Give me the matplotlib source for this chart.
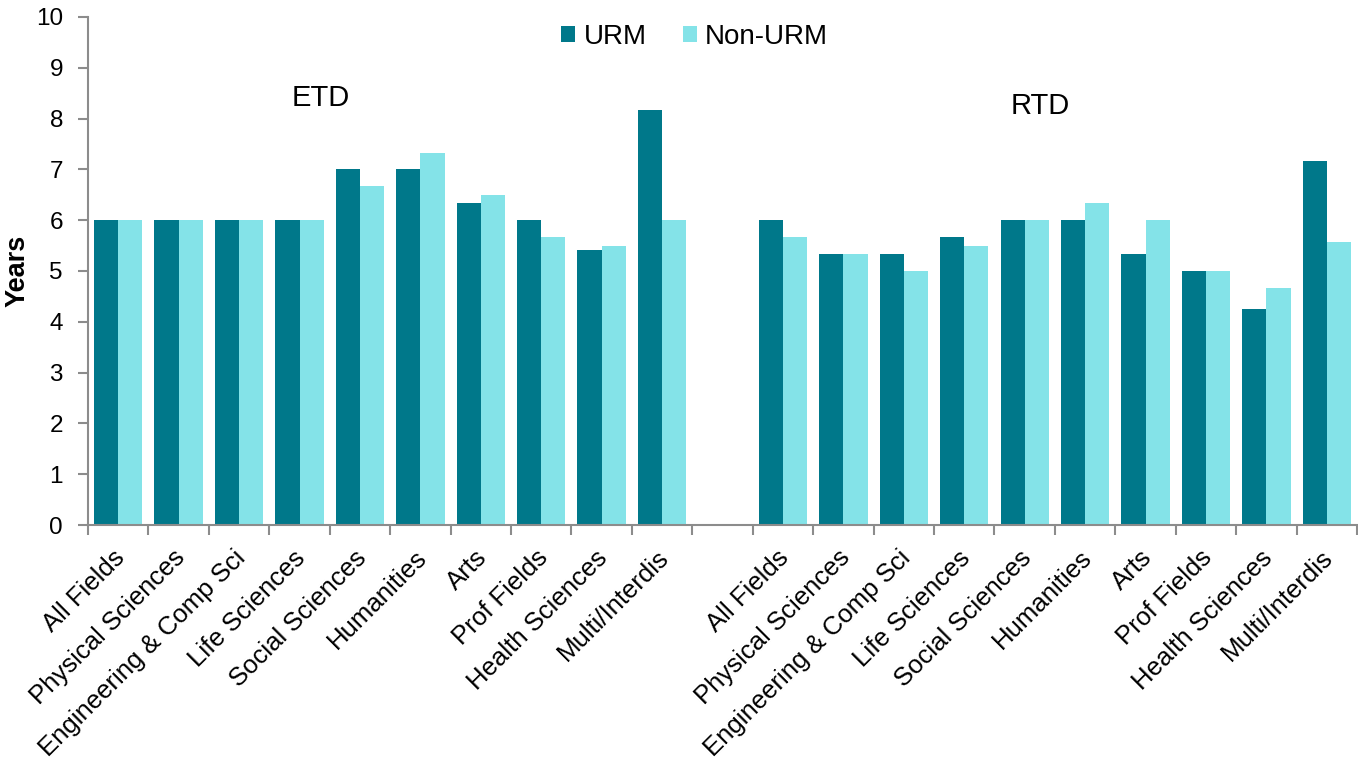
import matplotlib
matplotlib.use("Agg")
import matplotlib.pyplot as plt
import matplotlib.transforms as mtransforms
import numpy as np

plt.rcParams["font.family"] = ["Liberation Sans", "DejaVu Sans"]

FIELDS = ["All Fields", "Physical Sciences", "Engineering & Comp Sci",
          "Life Sciences", "Social Sciences", "Humanities", "Arts",
          "Prof Fields", "Health Sciences", "Multi/Interdis"]

ETD_URM = [6, 6, 6, 6, 7, 7, 6.33, 6, 5.42, 8.17]
ETD_NON = [6, 6, 6, 6, 6.67, 7.33, 6.5, 5.67, 5.5, 6]
RTD_URM = [6, 5.33, 5.33, 5.67, 6, 6, 5.33, 5, 4.25, 7.17]
RTD_NON = [5.67, 5.33, 5, 5.5, 6, 6.33, 6, 5, 4.67, 5.58]

URM_COLOR = "#00788a"
NON_COLOR = "#84e3e8"
SPINE = "#8c8c8c"

n = len(FIELDS)
x_etd = np.arange(n)
x_rtd = np.arange(n) + n + 1
x_all = np.concatenate([x_etd, x_rtd])
urm = ETD_URM + RTD_URM
non = ETD_NON + RTD_NON
w = 0.4

fig = plt.figure(figsize=(13.58, 7.64), dpi=100)
ax = fig.add_axes([0.0648, 0.3128, 0.9345, 0.665])

ax.bar(x_all - w / 2, urm, width=w, color=URM_COLOR, label="URM")
ax.bar(x_all + w / 2, non, width=w, color=NON_COLOR, label="Non-URM")

ax.set_xlim(-0.5, 2 * n + 0.5)
ax.set_ylim(0, 10)
ax.set_yticks(range(0, 11))
ax.tick_params(axis="y", labelsize=17.5, length=7, color=SPINE, width=1.5, pad=11)

ax.set_xticks(x_all)
ax.set_xticklabels(FIELDS + FIELDS, rotation=45, ha="right",
                   rotation_mode="anchor", fontsize=18.5)
ax.tick_params(axis="x", which="major", length=0, pad=12)
ax.set_xticks(np.arange(-0.5, 2 * n + 1), minor=True)
ax.tick_params(axis="x", which="minor", length=7, color=SPINE, width=1.5)

# nudge rotated labels so their ends sit under the category centre
shift = mtransforms.ScaledTranslation(-0.06, -0.04, fig.dpi_scale_trans)
for lab in ax.get_xticklabels():
    lab.set_transform(lab.get_transform() + shift)

for side in ("top", "right"):
    ax.spines[side].set_visible(False)
for side in ("left", "bottom"):
    ax.spines[side].set_color(SPINE)
    ax.spines[side].set_linewidth(1.5)

ax.set_ylabel("Years", fontsize=19.5, fontweight="bold", labelpad=4)

ax.text(3.35, 8.4, "ETD", fontsize=21, ha="center", va="center")
ax.text(15.25, 8.25, "RTD", fontsize=21, ha="center", va="center")

ax.legend(loc="upper center", bbox_to_anchor=(0.478, 1.035), ncol=2, frameon=False,
          fontsize=20, handlelength=0.5, handleheight=0.5, handletextpad=0.3,
          columnspacing=1.3)

fig.savefig("out.png", dpi=100)
